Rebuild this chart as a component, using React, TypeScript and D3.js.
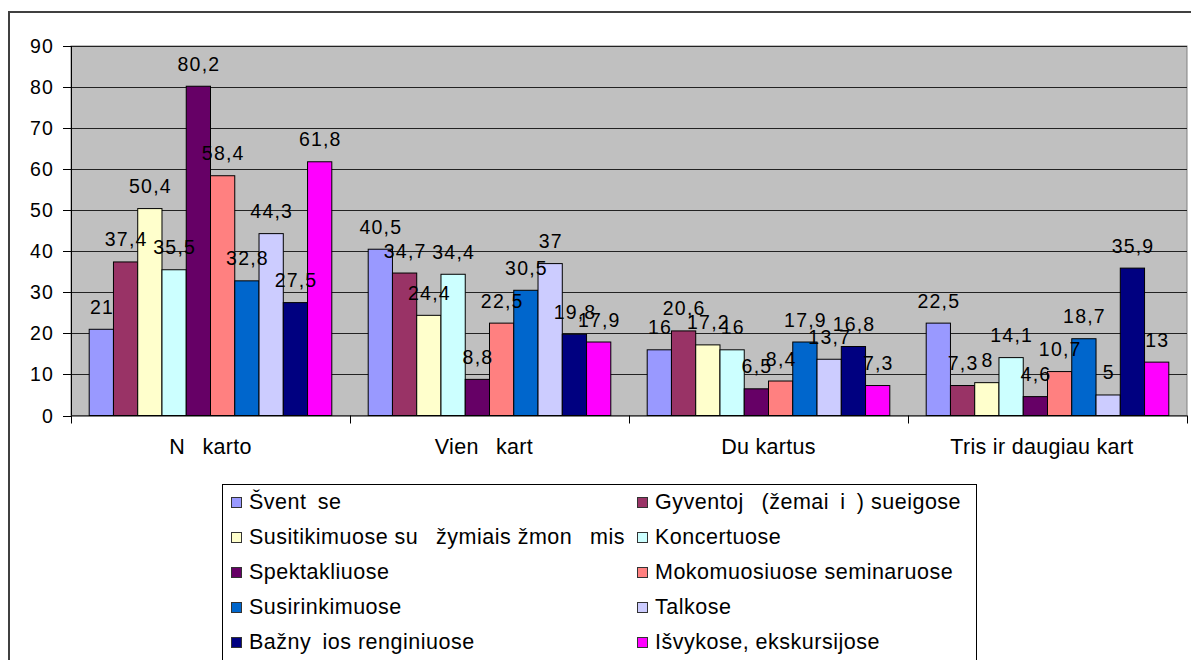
import React from 'react';
import * as d3 from 'd3';

// categories (glyphs missing in the source render as blanks)
const categories = ['N\u2002 karto', 'Vien\u2002 kart\u2002', 'Du kartus', 'Tris ir daugiau kart\u2002'];

const seriesNames = [
  'Švent\u2002se',
  'Gyventoj\u2002 (žemai\u2002i\u2002) sueigose',
  'Susitikimuose su\u2002 žymiais žmon\u2002 mis',
  'Koncertuose',
  'Spektakliuose',
  'Mokomuosiuose seminaruose',
  'Susirinkimuose',
  'Talkose',
  'Bažny\u2002ios renginiuose',
  'Išvykose, ekskursijose',
];

const seriesColors = [
  '#9999FF', '#993366', '#FFFFCC', '#CCFFFF', '#660066',
  '#FF8080', '#0066CC', '#CCCCFF', '#000080', '#FF00FF',
];

// values per category, one entry per series
const neKarto = [21, 37.4, 50.4, 35.5, 80.2, 58.4, 32.8, 44.3, 27.5, 61.8];
const vienaKarta = [40.5, 34.7, 24.4, 34.4, 8.8, 22.5, 30.5, 37, 19.8, 17.9];
const duKartus = [16, 20.6, 17.2, 16, 6.5, 8.4, 17.9, 13.7, 16.8, 7.3];
const trisIrDaugiau = [22.5, 7.3, 8, 14.1, 4.6, 10.7, 18.7, 5, 35.9, 13];
const values = [neKarto, vienaKarta, duKartus, trisIrDaugiau];

const yTicks = [0, 10, 20, 30, 40, 50, 60, 70, 80, 90];

const width = 1191;
const height = 660;
const plot = { left: 71, right: 1187, top: 46, bottom: 415.5 };
const font = "'Liberation Sans', Arial, sans-serif";

const fmt = (v: number) => String(v).replace('.', ',');

export default function App() {
  const x0 = d3.scaleBand<string>().domain(categories).range([plot.left, plot.right]);
  const x1 = d3
    .scaleBand<string>()
    .domain(seriesNames)
    .range([0, x0.bandwidth()])
    .paddingInner(0)
    .paddingOuter(0.75);
  const y = d3.scaleLinear().domain([0, 90]).range([plot.bottom, plot.top]);

  const boundaries = [...categories.map((c) => x0(c)!), plot.right];

  // legend: two columns, five rows
  const legendCols = [231, 637];
  const legendRow = (i: number) => 509 + Math.floor(i / 2) * 35;

  return (
    <svg
      width={width}
      height={height}
      style={{ position: 'absolute', left: 0, top: 0, background: '#fff' }}
      fontFamily={font}
    >
      {/* outer chart border */}
      <rect x={9} y={12} width={1200} height={700} fill="#fff" stroke="#404040" strokeWidth={2} />

      {/* plot area */}
      <rect
        x={plot.left}
        y={plot.top}
        width={plot.right - plot.left}
        height={plot.bottom - plot.top}
        fill="#C0C0C0"
        stroke="#808080"
        strokeWidth={1}
      />
      {yTicks.slice(1).map((t) => (
        <line
          key={t}
          x1={plot.left}
          x2={plot.right}
          y1={Math.round(y(t)) + 0.5}
          y2={Math.round(y(t)) + 0.5}
          stroke="#222"
          strokeWidth={1}
        />
      ))}

      {/* bars */}
      {values.map((row, ci) =>
        row.map((v, si) => (
          <rect
            key={`${ci}-${si}`}
            x={x0(categories[ci])! + x1(seriesNames[si])!}
            y={y(v)}
            width={x1.bandwidth()}
            height={y(0) - y(v)}
            fill={seriesColors[si]}
            stroke="#000"
            strokeWidth={1}
          />
        ))
      )}

      {/* data labels */}
      {values.map((row, ci) =>
        row.map((v, si) => (
          <text
            key={`l-${ci}-${si}`}
            x={x0(categories[ci])! + x1(seriesNames[si])! + x1.bandwidth() / 2 + 0.6}
            y={y(v) - 15.5}
            textAnchor="middle"
            fontSize={19.5}
            letterSpacing={1.2}
            fill="#000"
          >
            {fmt(v)}
          </text>
        ))
      )}

      {/* y axis */}
      <line x1={plot.left + 0.5} x2={plot.left + 0.5} y1={plot.top} y2={plot.bottom} stroke="#000" />
      {yTicks.map((t) => (
        <g key={`yt-${t}`}>
          <line
            x1={plot.left - 8}
            x2={plot.left}
            y1={Math.round(y(t)) + 0.5}
            y2={Math.round(y(t)) + 0.5}
            stroke="#000"
          />
          <text x={54} y={y(t) + 7} textAnchor="end" fontSize={19.5} letterSpacing={1.2} fill="#000">
            {t}
          </text>
        </g>
      ))}

      {/* x axis */}
      <line x1={plot.left} x2={plot.right} y1={plot.bottom + 0.5} y2={plot.bottom + 0.5} stroke="#000" />
      {boundaries.map((bx, i) => (
        <line
          key={`xt-${i}`}
          x1={Math.round(bx) + 0.5}
          x2={Math.round(bx) + 0.5}
          y1={plot.bottom}
          y2={plot.bottom + 8}
          stroke="#000"
        />
      ))}
      {categories.map((c) => (
        <text
          key={c}
          x={x0(c)! + x0.bandwidth() / 2}
          y={454}
          textAnchor="middle"
          fontSize={21.5}
          letterSpacing={0.3}
          fill="#000"
          style={{ whiteSpace: 'pre' }}
        >
          {c}
        </text>
      ))}

      {/* legend */}
      <rect x={222.5} y={484.5} width={754} height={300} fill="#fff" stroke="#000" strokeWidth={1} />
      {seriesNames.map((name, i) => {
        const cx = legendCols[i % 2];
        const by = legendRow(i);
        return (
          <g key={name}>
            <rect
              x={cx + 0.5}
              y={by - 11.5}
              width={10}
              height={10}
              fill={seriesColors[i]}
              stroke="#333"
              strokeWidth={1}
            />
            <text
              x={cx + 18}
              y={by}
              fontSize={21.5}
              letterSpacing={0.5}
              fill="#000"
              style={{ whiteSpace: 'pre' }}
            >
              {name}
            </text>
          </g>
        );
      })}
    </svg>
  );
}
